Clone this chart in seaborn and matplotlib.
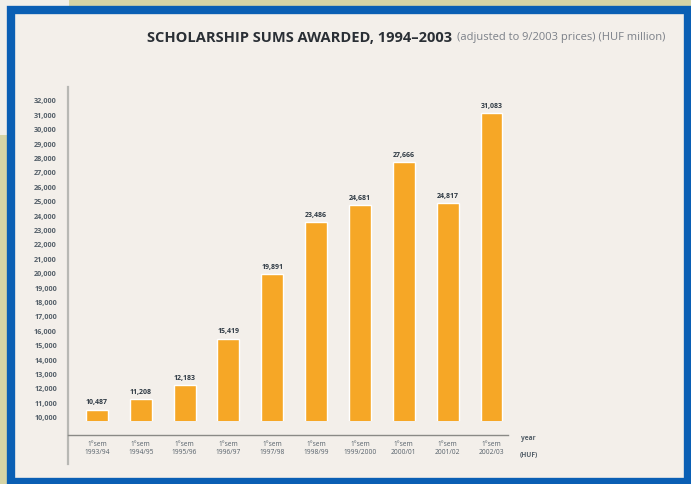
import matplotlib
matplotlib.use('Agg')
import matplotlib.pyplot as plt
import matplotlib.patches as patches
import seaborn as sns

# data (HUF million, 9/2003 prices)
terms = ['1°sem', '1°sem', '1°sem', '1°sem', '1°sem', '1°sem', '1°sem', '1°sem', '1°sem', '1°sem']
years = ['1993/94', '1994/95', '1995/96', '1996/97', '1997/98', '1998/99',
         '1999/2000', '2000/01', '2001/02', '2002/03']
sums = [10487, 11208, 12183, 15419, 19891, 23486, 24681, 27666, 24817, 31083]
yticks = list(range(10000, 33000, 1000))

sns.set_style('white')
plt.rcParams['font.family'] = ['Open Sans', 'DejaVu Sans']

fig = plt.figure(figsize=(6.91, 4.85), dpi=100)
fig.patch.set_facecolor('#d6d4a5')

# page background and blue frame
fig.patches.append(patches.Rectangle((0, 0.72), 0.1, 0.28, transform=fig.transFigure,
                                     facecolor='#f1efe9', edgecolor='none', zorder=0))
fig.patches.append(patches.Rectangle((0.016, 0.004), 0.98, 0.974, transform=fig.transFigure,
                                     facecolor='#f3efea', edgecolor='#0a5fb4', linewidth=6, zorder=1))

ax = fig.add_axes([0.0984, 0.13, 0.637, 0.6887])
ax.set_zorder(5)
ax.set_facecolor('none')
labels = [f'{t}\n{y}' for t, y in zip(terms, years)]
sns.barplot(x=labels, y=sums, color='#f6a726', width=0.5, saturation=1, ax=ax)

ax.set_ylim(9700, 32900)
ax.set_xlim(-0.66, 9.38)
ax.set_yticks(yticks)
ax.set_yticklabels([f'{v:,}' for v in yticks], fontsize=5.2, color='#55606a', fontweight='bold')
ax.tick_params(axis='y', length=0, pad=8)
ax.tick_params(axis='x', length=0, pad=4, labelsize=4.8, labelcolor='#55606a')
for t in ax.get_xticklabels():
    t.set_fontweight('bold')
    t.set_linespacing(3.0)

ax.bar_label(ax.containers[0], labels=[f'{v:,}' for v in sums], padding=3,
             fontsize=5.0, fontweight='bold', color='#2f3a44')

sns.despine(ax=ax, top=True, right=True)
ax.spines['left'].set_color('#b8b8b4')
ax.spines['left'].set_linewidth(1.6)
ax.spines['left'].set_bounds(6700, 32900)
ax.spines['bottom'].set_color('#8a8a86')
ax.spines['bottom'].set_linewidth(1.0)
ax.spines['bottom'].set_position(('outward', 10))
ax.set_xlabel('')
ax.set_ylabel('')

ax.text(9.85, -0.038, 'year\n(HUF)', transform=ax.get_xaxis_transform(), ha='center', va='top',
        fontsize=4.8, fontweight='bold', color='#55606a', linespacing=3.0)

fig.text(0.655, 0.922, 'SCHOLARSHIP SUMS AWARDED, 1994–2003', ha='right', va='center',
         fontsize=10.5, fontweight='bold', color='#2a2f35', zorder=6)
fig.text(0.662, 0.922, '(adjusted to 9/2003 prices) (HUF million)', ha='left', va='center',
         fontsize=8.0, color='#7b8088', zorder=6)

fig.savefig('out.png', dpi=100, facecolor=fig.get_facecolor())
